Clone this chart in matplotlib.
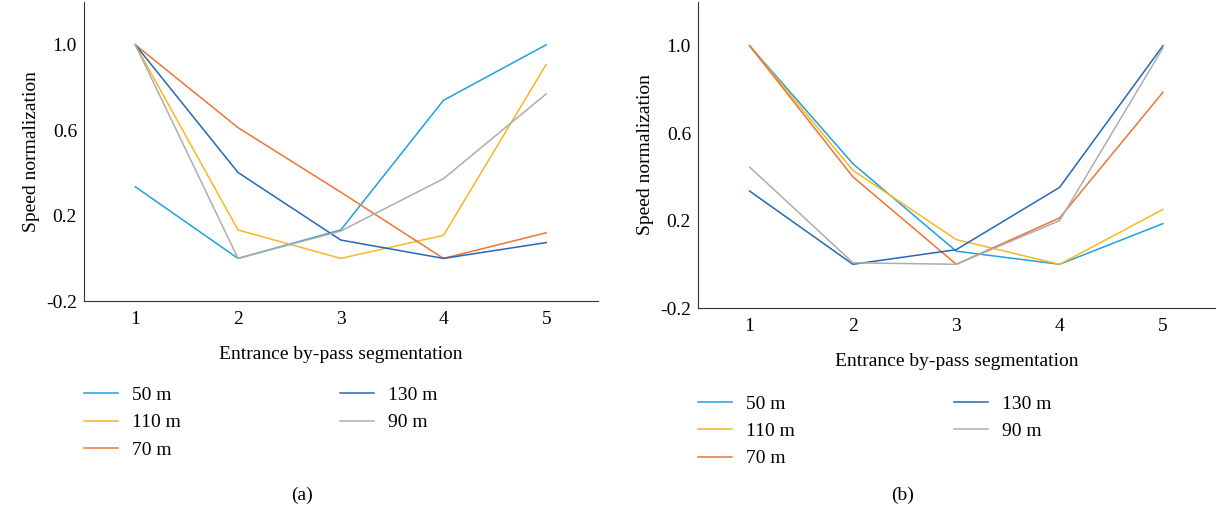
import matplotlib
matplotlib.use("Agg")
import matplotlib.pyplot as plt

plt.rcParams['font.family'] = ['Liberation Serif', 'DejaVu Serif']
plt.rcParams['font.size'] = 14

# segments on the x axis
segments = [1, 2, 3, 4, 5]
series_names = ['50 m', '110 m', '70 m', '130 m', '90 m']
series_colors = ['#1fa0e0', '#f8b724', '#ee7434', '#2468b6', '#adadad']

# panel (a)
a_50 = [0.335, 0.0, 0.133, 0.74, 1.0]
a_110 = [1.0, 0.133, 0.0, 0.108, 0.908]
a_70 = [1.0, 0.612, 0.31, 0.0, 0.12]
a_130 = [1.0, 0.402, 0.086, 0.0, 0.074]
a_90 = [1.0, 0.0, 0.128, 0.373, 0.77]

# panel (b)
b_50 = [1.0, 0.46, 0.06, 0.0, 0.186]
b_110 = [1.0, 0.43, 0.113, 0.0, 0.251]
b_70 = [1.0, 0.40, 0.0, 0.212, 0.787]
b_130 = [0.335, 0.0, 0.067, 0.352, 1.0]
b_90 = [0.445, 0.007, 0.0, 0.2, 0.99]

panels = [
    ('(a)', [a_50, a_110, a_70, a_130, a_90]),
    ('(b)', [b_50, b_110, b_70, b_130, b_90]),
]

fig = plt.figure(figsize=(12.17, 5.13), dpi=100)
rects = [[0.069, 0.413, 0.422, 0.583], [0.5735, 0.3996, 0.4245, 0.5964]]
caption_x = [0.248, 0.742]

for (cap, data), rect, cx in zip(panels, rects, caption_x):
    ax = fig.add_axes(rect)
    for vals, name, col in zip(data, series_names, series_colors):
        ax.plot(segments, vals, color=col, lw=1.1, label=name)
    ax.set_xlim(0.5, 5.5)
    ax.set_ylim(-0.2, 1.2)
    ax.set_yticks([-0.2, 0.2, 0.6, 1.0])
    ax.set_yticklabels(['-0.2', '0.2', '0.6', '1.0'])
    ax.set_xticks(segments)
    ax.tick_params(axis='y', length=0, pad=5, labelsize=14)
    ax.tick_params(axis='x', length=0, pad=7, labelsize=14)
    ax.spines['top'].set_visible(False)
    ax.spines['right'].set_visible(False)
    ax.spines['left'].set_color('#333333')
    ax.spines['bottom'].set_color('#333333')
    ax.set_xlabel('Entrance by-pass segmentation', fontsize=14, labelpad=13)
    ax.set_ylabel('Speed normalization', fontsize=14, labelpad=4)
    ax.legend(loc='upper left', bbox_to_anchor=(0.0, -0.285), ncol=2,
              frameon=False, handlelength=1.75, handletextpad=0.72,
              columnspacing=8.2, labelspacing=0.5, borderaxespad=0,
              borderpad=0, fontsize=14)
    fig.text(cx, 0.025, cap, ha='center', fontsize=14)

fig.savefig('out.png', dpi=100)
